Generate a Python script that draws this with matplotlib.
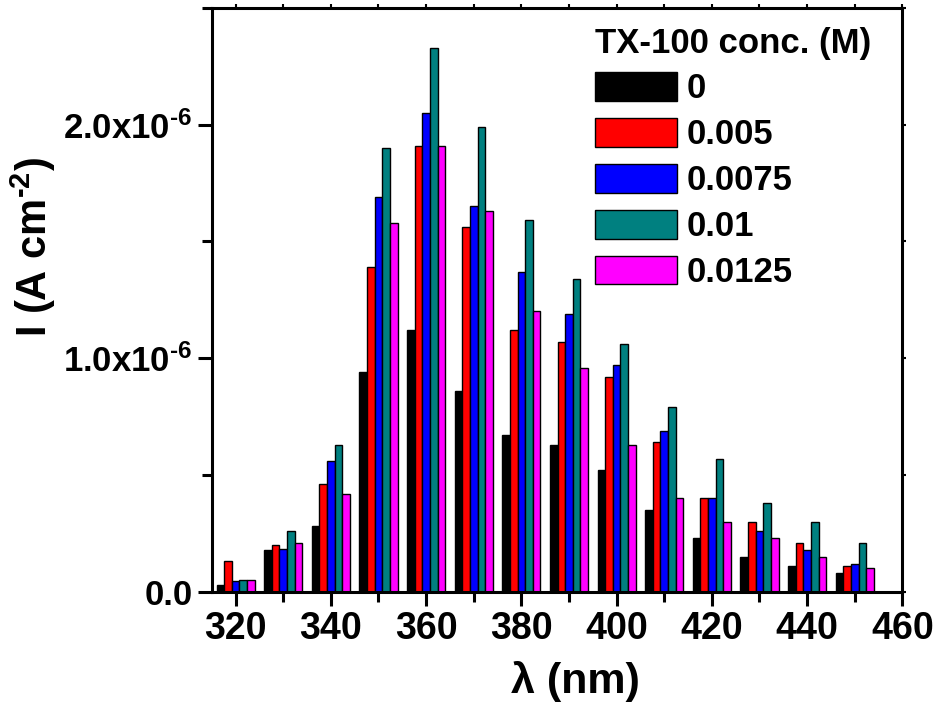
import matplotlib
matplotlib.use("Agg")
import matplotlib.pyplot as plt
import numpy as np
from matplotlib.ticker import FuncFormatter, MultipleLocator

plt.rcParams["font.family"] = ["Liberation Sans", "DejaVu Sans"]
plt.rcParams["font.weight"] = "bold"
plt.rcParams["mathtext.fontset"] = "custom"
plt.rcParams["mathtext.rm"] = "Liberation Sans:bold"
plt.rcParams["mathtext.bf"] = "Liberation Sans:bold"
plt.rcParams["mathtext.default"] = "bf"

# wavelengths (nm) and current density (A cm^-2) for each TX-100 concentration
wavelengths = [320, 330, 340, 350, 360, 370, 380, 390, 400, 410, 420, 430, 440, 450]
conc_labels = ["0", "0.005", "0.0075", "0.01", "0.0125"]
conc_0 = [0.03, 0.18, 0.28, 0.94, 1.12, 0.86, 0.67, 0.63, 0.52, 0.35, 0.23, 0.15, 0.11, 0.08]
conc_0005 = [0.13, 0.20, 0.46, 1.39, 1.91, 1.56, 1.12, 1.07, 0.92, 0.64, 0.40, 0.30, 0.21, 0.11]
conc_00075 = [0.045, 0.185, 0.56, 1.69, 2.05, 1.65, 1.37, 1.19, 0.97, 0.69, 0.40, 0.26, 0.18, 0.12]
conc_001 = [0.05, 0.26, 0.63, 1.90, 2.33, 1.99, 1.59, 1.34, 1.06, 0.79, 0.57, 0.38, 0.30, 0.21]
conc_00125 = [0.05, 0.21, 0.42, 1.58, 1.91, 1.63, 1.20, 0.96, 0.63, 0.40, 0.30, 0.23, 0.15, 0.10]
colors = ["#000000", "#FF0000", "#0000FF", "#008080", "#FF00FF"]

series = [conc_0, conc_0005, conc_00075, conc_001, conc_00125]

fig = plt.figure(figsize=(9.37, 7.13), dpi=100)
ax = fig.add_axes([0.226, 0.170, 0.737, 0.819])

x = np.array(wavelengths, dtype=float)
width = 1.6
for i, (vals, lab, col) in enumerate(zip(series, conc_labels, colors)):
    ax.bar(x + (i - 2) * width, np.array(vals) * 1e-6, width=width, color=col,
           edgecolor="black", linewidth=1.0, label=lab)

ax.set_xlim(315, 460)
ax.set_ylim(0, 2.5e-6)
ax.xaxis.set_major_locator(MultipleLocator(20))
ax.xaxis.set_minor_locator(MultipleLocator(10))
ax.yaxis.set_major_locator(MultipleLocator(1e-6))
ax.yaxis.set_minor_locator(MultipleLocator(0.5e-6))

HY = "\u2010"  # plain hyphen look for the exponents


def yfmt(v, pos):
    if abs(v) < 1e-12:
        return "0.0"
    return "%.1fx10$^{%s6}$" % (v / 1e-6, HY)


ax.yaxis.set_major_formatter(FuncFormatter(yfmt))

for s in ax.spines.values():
    s.set_linewidth(2.2)
ax.tick_params(which="major", direction="out", length=10, width=2.2, pad=4)
ax.tick_params(which="minor", direction="out", length=7, width=2.2)
ax.tick_params(axis="y", labelsize=25)
ax.tick_params(axis="x", labelsize=27)
for lbl in ax.get_xticklabels() + ax.get_yticklabels():
    lbl.set_fontweight("bold")

# small mirror ticks on top and right
top = ax.secondary_xaxis("top")
top.xaxis.set_major_locator(MultipleLocator(10))
top.tick_params(direction="out", length=3, width=1.5, labeltop=False)
right = ax.secondary_yaxis("right")
right.yaxis.set_major_locator(MultipleLocator(0.5e-6))
right.tick_params(direction="out", length=3, width=1.5, labelright=False)

ax.set_xlabel("λ (nm)", fontsize=31, fontweight="bold")
ax.xaxis.set_label_coords(0.527, -0.118)
ax.set_ylabel("I (A cm$^{%s2}$)" % HY, fontsize=30, fontweight="bold")
ax.yaxis.set_label_coords(-0.222, 0.59)

leg = ax.legend(title="TX-100 conc. (M)", loc="upper left",
                bbox_to_anchor=(0.555, 0.968), frameon=False, fontsize=25,
                title_fontsize=25, handlelength=2.35, handleheight=0.9,
                handletextpad=0.3, labelspacing=0.36, borderpad=0,
                borderaxespad=0, alignment="left")
leg.get_title().set_fontweight("bold")
for t in leg.get_texts():
    t.set_fontweight("bold")

fig.savefig("out.png", dpi=100)
plt.close(fig)
